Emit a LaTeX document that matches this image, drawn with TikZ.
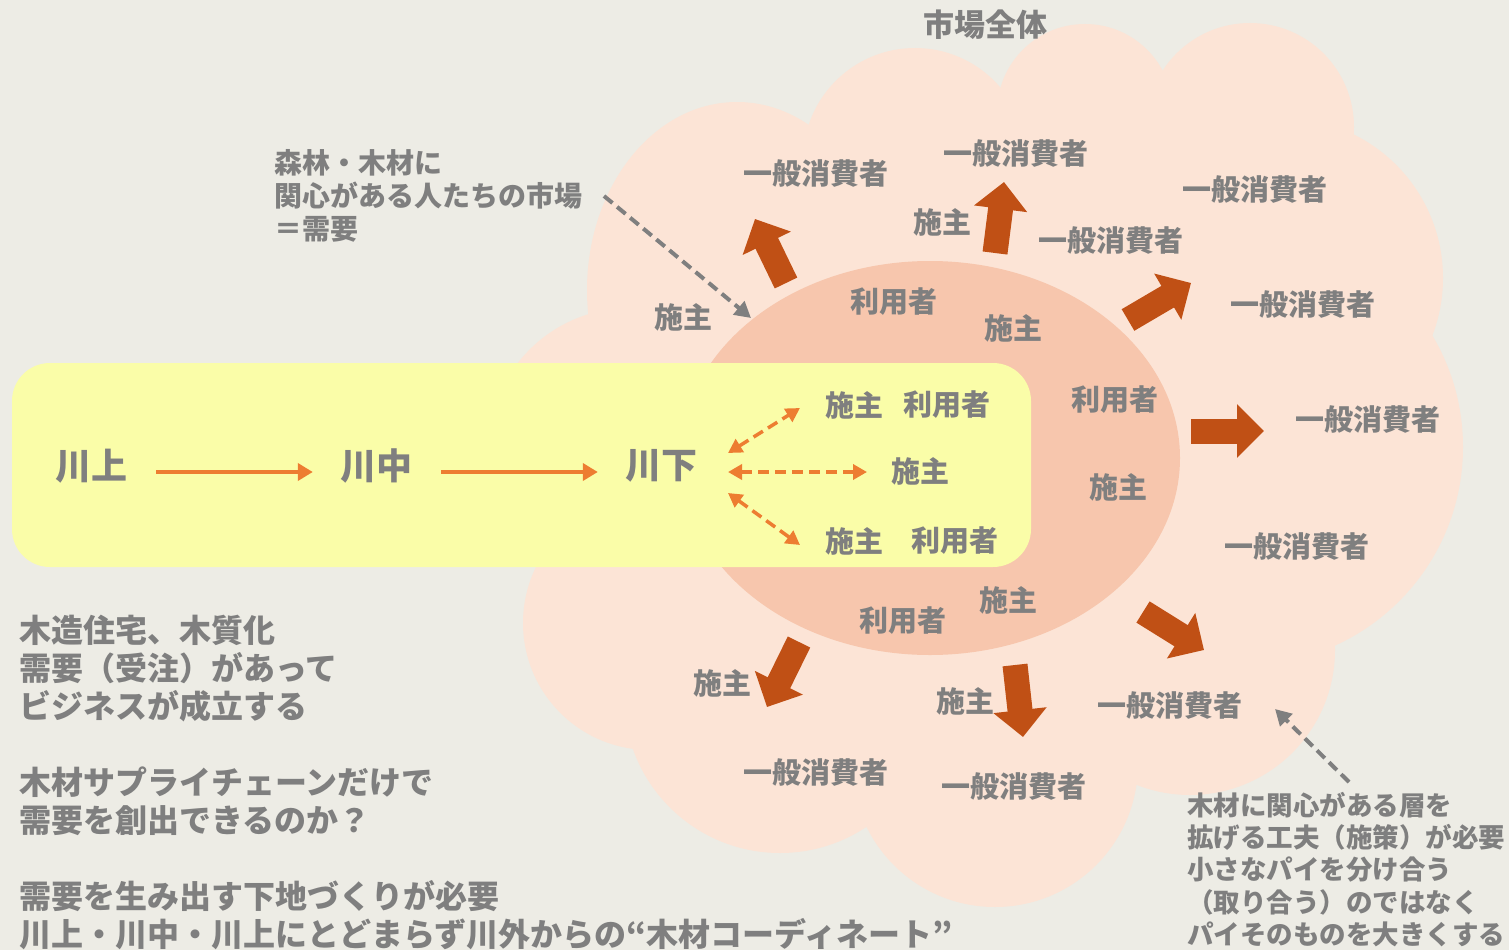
\documentclass[tikz,border=0pt]{standalone}
\usepackage{fontspec}
\newfontfamily\jpfont{Noto Sans CJK JP}
\usepackage{tikz}
\usetikzlibrary{arrows.meta}

\definecolor{bgcol}{RGB}{237,236,229}
\definecolor{cloudcol}{RGB}{252,228,214}
\definecolor{ovalcol}{RGB}{247,198,173}
\definecolor{boxcol}{RGB}{250,253,168}
\definecolor{darkor}{RGB}{192,80,21}
\definecolor{lightor}{RGB}{237,125,49}
\definecolor{txtgray}{RGB}{127,127,127}

\begin{document}
\begin{tikzpicture}[x=1pt,y=-1pt]
	\tikzstyle{lbl} = [inner sep=0pt, text=txtgray, font=\jpfont\bfseries\fontsize{29}{34}\selectfont]
	\tikzstyle{big} = [inner sep=0pt, text=txtgray, font=\jpfont\bfseries\fontsize{36}{40}\selectfont]
	\tikzstyle{note} = [inner sep=0pt, text=txtgray, align=left, anchor=north west]
	\tikzstyle{bigarrow} = [darkor, line width=25pt, -{Triangle[length=27pt,width=52pt]}]
	\tikzstyle{flow} = [lightor, line width=4pt, -{Triangle[length=15pt,width=17pt]}]
	\tikzstyle{link} = [lightor, line width=3.5pt, dash pattern=on 11pt off 6pt, {Triangle[length=14pt,width=15pt]}-{Triangle[length=14pt,width=15pt]}]
	\tikzstyle{pointer} = [txtgray, line width=4pt, dash pattern=on 11pt off 6pt, -{Triangle[length=16pt,width=17pt]}]

	\useasboundingbox (0,0) rectangle (1509,950);
	\fill [bgcol] (0,0) rectangle (1509,950);

	% market cloud
	\fill [cloudcol] (737,290) ellipse [x radius=150, y radius=188];
	\foreach \cx/\cy/\r in {915/160/112, 1085/112/88, 1250/127/104, 1283/278/160, 1245/447/218,
		1190/650/145, 995/764/143, 780/697/156, 650/623/127, 630/450/142}
		\fill [cloudcol] (\cx,\cy) circle [radius=\r];
	\fill [cloudcol] (737,290) -- (915,160) -- (1085,112) -- (1250,127) -- (1283,278) -- (1245,447)
		-- (1190,650) -- (995,764) -- (780,697) -- (650,623) -- (630,450) -- cycle;

	% interested people
	\fill [ovalcol] (930,458) ellipse [x radius=250, y radius=197];

	% supply chain
	\fill [boxcol, rounded corners=38pt] (12,363) rectangle (1031,567);

	\node [lbl, font=\jpfont\bfseries\fontsize{31}{34}\selectfont] (whole) at (985,25) {市場全体};

	\node [note, font=\jpfont\bfseries\fontsize{28}{33}\selectfont] (interest) at (274,149) {森林・木材に\\関心がある人たちの市場\\＝需要};
	\node [note, font=\jpfont\bfseries\fontsize{32}{38}\selectfont] (question) at (19,615)
		{木造住宅、木質化\\需要（受注）があって\\ビジネスが成立する\\[38pt]木材サプライチェーンだけで\\需要を創出できるのか？\\[38pt]需要を生み出す下地づくりが必要\\川上・川中・川上にとどまらず川外からの“木材コーディネート”};
	\node [note, font=\jpfont\bfseries\fontsize{26.5}{32.2}\selectfont] (policy) at (1187,792)
		{木材に関心がある層を\\拡げる工夫（施策）が必要\\小さなパイを分け合う\\（取り合う）のではなく\\パイそのものを大きくする};

	\node [lbl] (con1) at (816,174) {一般消費者};
	\node [lbl] (con2) at (1016,154) {一般消費者};
	\node [lbl] (con3) at (1255,190) {一般消費者};
	\node [lbl] (con4) at (1111,241) {一般消費者};
	\node [lbl] (con5) at (1303,305) {一般消費者};
	\node [lbl] (con6) at (1368,420) {一般消費者};
	\node [lbl] (con7) at (1297,547) {一般消費者};
	\node [lbl] (con8) at (1170,705) {一般消費者};
	\node [lbl] (con9) at (816,772) {一般消費者};
	\node [lbl] (con10) at (1014,786) {一般消費者};

	\node [lbl] (own1) at (942,222) {施主};
	\node [lbl] (own2) at (683,317) {施主};
	\node [lbl] (own3) at (1013,328) {施主};
	\node [lbl] (own4) at (1118,487) {施主};
	\node [lbl] (own5) at (1008,600) {施主};
	\node [lbl] (own6) at (722,683) {施主};
	\node [lbl] (own7) at (965,701) {施主};
	\node [lbl] (usr1) at (894,302) {利用者};
	\node [lbl] (usr2) at (1115,400) {利用者};
	\node [lbl] (usr3) at (903,621) {利用者};

	\node [lbl] (own8) at (854,405) {施主};
	\node [lbl] (usr4) at (947,405) {利用者};
	\node [lbl] (own9) at (920,471) {施主};
	\node [lbl] (own10) at (854,541) {施主};
	\node [lbl] (usr5) at (955,541) {利用者};

	\node [big] (up) at (91,466) {川上};
	\node [big] (mid) at (376,466) {川中};
	\node [big] (down) at (661,466) {川下};

	\draw [flow] ([xshift=29pt,yshift=-6pt]up.east) -- ([xshift=-27pt,yshift=-6pt]mid.west);
	\draw [flow] ([xshift=29pt,yshift=-6pt]mid.east) -- ([xshift=-27pt,yshift=-6pt]down.west);

	\coordinate (d1s) at (728,453);
	\coordinate (d1e) at (800,408);
	\coordinate (d2s) at (728,472);
	\coordinate (d2e) at (867,472);
	\coordinate (d3s) at (728,493);
	\coordinate (d3e) at (800,545);
	\draw [link] (d1s) -- (d1e);
	\draw [link] (d2s) -- (d2e);
	\draw [link] (d3s) -- (d3e);

	% growth arrows
	\foreach \i/\sx/\sy/\tx/\ty in {1/786/283/755/219, 2/995/253/1004/182, 3/1128/320/1191/283,
		4/1191/431/1264/431, 5/1143/612/1204/650, 6/1015/665/1023/737, 7/799/642/767/707}
	{
		\coordinate (bs\i) at (\sx,\sy);
		\coordinate (bt\i) at (\tx,\ty);
		\draw [bigarrow] (bs\i) -- (bt\i);
	}

	\coordinate (g1s) at (604,196);
	\coordinate (g1e) at (751,318);
	\coordinate (g2s) at (1349,782);
	\coordinate (g2e) at (1275,709);
	\draw [pointer] (g1s) -- (g1e);
	\draw [pointer] (g2s) -- (g2e);

\end{tikzpicture}
\end{document}
